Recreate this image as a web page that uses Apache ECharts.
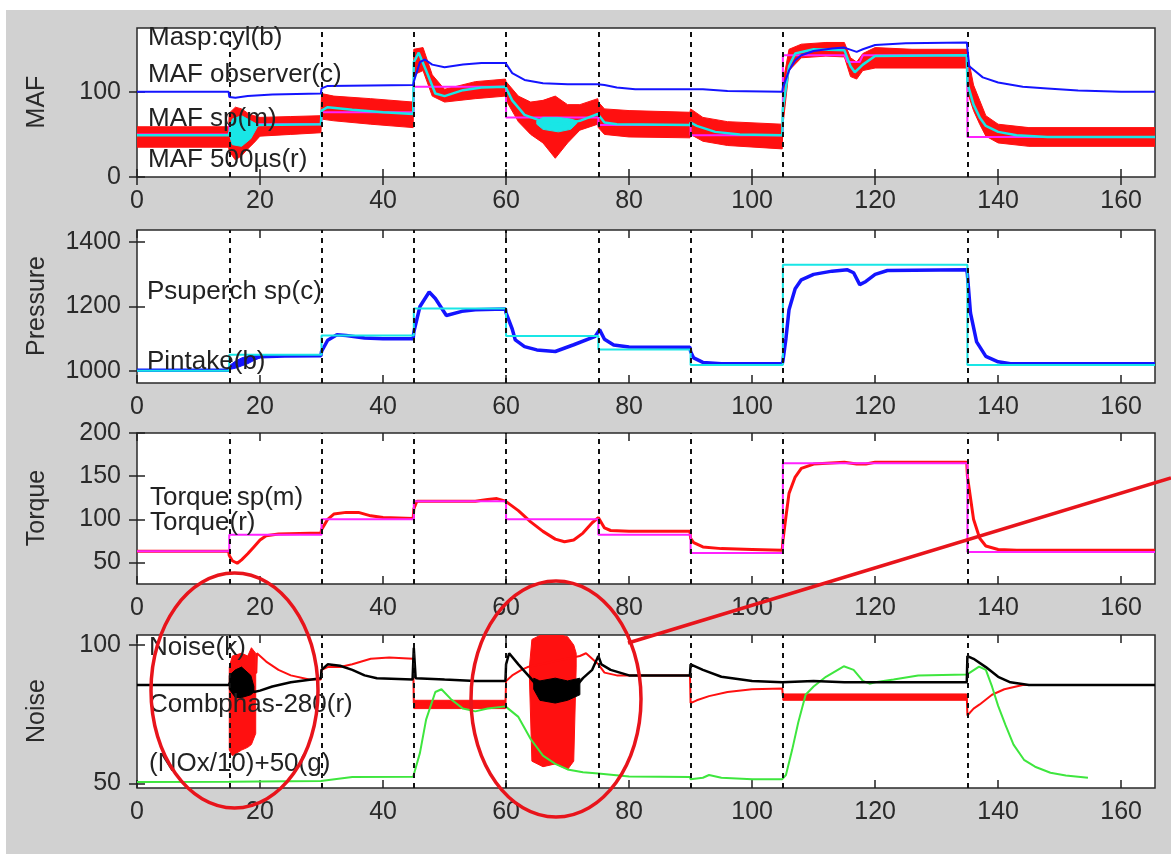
<!DOCTYPE html>
<html><head><meta charset="utf-8">
<script src="https://cdn.jsdelivr.net/npm/echarts@6/dist/echarts.min.js"></script>
<style>
html,body{margin:0;padding:0;background:#fff;width:1171px;height:854px;overflow:hidden}
#bg{position:absolute;left:6px;top:10px;width:1165px;height:844px;background:#d1d1d1}
#c{position:absolute;left:0;top:0;width:1171px;height:854px}
</style></head><body><div id="bg"></div><div id="c"></div>
<script>
// ---------- tick values / step times ----------
const stepTimes = [15, 30, 45, 60, 75, 90, 105, 135];
const xTicks = [0, 20, 40, 60, 80, 100, 120, 140, 160];
const mafTicks = [0, 100];
const pressTicks = [1000, 1200, 1400];
const torqueTicks = [50, 100, 150, 200];
const noiseTicks = [50, 100];

// ---------- MAF panel ----------
// MAF 500us (r): [t, low, high] envelope of the noisy signal
const mafRaw = [
 [0,35,59],[14.9,35,59],[15,30,75],[16,20,82],[17,25,80],[18,33,75],[19,40,72],[20,48,70],[25,50,71],[29.9,52,72],
 [30,68,98],[32,66,95],[38,62,92],[44.9,58,88],
 [45,120,150],[46.5,125,152],[48,95,120],[50,88,103],[55,92,112],[59.9,95,115],
 [60,90,112],[62,65,95],[64,50,88],[66,40,90],[68,22,95],[70,40,85],[72,55,85],[74.9,62,92],
 [75,58,88],[76,50,80],[80,47,78],[89.9,46,76],[90,50,80],[92,42,70],[96,37,65],[104.9,33,62],
 [105,60,110],[106,125,150],[108,140,156],[112,142,158],[115,141,158],[116,118,140],[117,115,135],[118,125,145],[120,128,152],[126,128,150],[134.9,128,150],
 [135,100,145],[136,78,108],[137,62,90],[138,48,72],[140,40,62],[145,36,58],[165.5,36,58]
];
// MAF observer (c)
const mafObs = [
 [0,49],[14.9,49],[15,52],[17,58],[19,60],[20,61],[29.9,62],
 [30,78],[31,82],[35,79],[40,76],[44.9,74],
 [45,135],[45.8,146],[47,125],[48.5,98],[50,95],[53,102],[56,105],[59.9,106],
 [60,104],[61,90],[63,73],[66,65],[68,62],[70,63],[72,66],[74.9,74],
 [75,72],[76,64],[78,62],[89.9,61],[90,64],[91,60],[94,53],[98,50],[104.9,49],
 [105,80],[106,130],[107,145],[110,150],[115,149],[116,130],[116.7,123],[118,132],[120,142],[134.9,143],
 [135,110],[136,85],[137,70],[138,60],[140,53],[143,49],[148,47],[165.5,47]
];
const mafObsBlob1 = [[15,50,55],[15.5,38,68],[17,36,72],[18.5,45,66],[19.5,58,62]];
const mafObsBlob2 = [[65,62,66],[66,56,70],[68.5,53,70],[70.5,56,68],[71.5,63,66]];
// MAF sp (m)
const mafSp = [
 [0,50],[15,50],[15,62],[30,62],[30,76],[45,76],[45,106],[60,106],[60,70],[75,70],[75,61],[90,61],[90,49],[105,49],
 [105,143],[115,143],[115.5,135],[117.5,135],[118,143],[135,143],[135,47],[165.5,47]
];
// Masp:cyl (b)
const maspCyl = [
 [0,100],[14.9,100],[15,94],[16,93],[18,95],[22,97],[29.9,98],
 [30,104],[31,107],[44.9,108],
 [45,112],[46,135],[46.8,138],[48,132],[50,129],[53,132],[56,134],[59.9,134],
 [60,132],[61,122],[63,114],[66,110],[70,109],[74.9,109],
 [75,111],[76,108],[78,105],[81,103],[89.9,103],[90,104],[92,103],[96,101],[104.9,100],
 [105,105],[106,125],[107,137],[108,143],[110,148],[113,151],[115,152],[117,147],[118,150],[120,155],[125,157],[134.9,158],
 [135,158],[135.3,130],[137.5,117],[140,111],[144,106],[148,104],[153,101.5],[160,100],[165.5,100]
];

// ---------- Pressure panel ----------
const psuperchSp = [
 [0,1000],[15,1000],[15,1050],[30,1050],[30,1110],[45,1110],[45,1194],[60,1194],[60,1108],[75,1108],
 [75,1066],[90,1066],[90,1018],[105,1018],[105,1330],[135,1330],[135,1018],[165.5,1018]
];
const pintake = [
 [0,1002],[14.9,1002],[15,1010],[16,1018],[17,1028],[18,1035],[19,1040],[20,1044],[24,1046],[29.9,1047],
 [30,1060],[31,1095],[32.5,1112],[34,1110],[37,1102],[40,1100],[44.9,1100],
 [45,1120],[46,1200],[47.5,1245],[48.5,1225],[50.3,1172],[52.8,1185],[55,1190],[59.9,1192],
 [60,1180],[61,1130],[61.5,1096],[63,1075],[65,1065],[68,1060],[71,1081],[74.5,1107],[75.2,1128],[76,1098],[77.5,1080],[80,1074],[89.9,1073],
 [90,1060],[90.5,1040],[92,1026],[95,1022],[104.9,1022],
 [105,1030],[105.5,1100],[106,1190],[107,1255],[108,1283],[110,1300],[113,1310],[115.5,1314],[116.5,1305],[117.5,1268],[118.5,1278],[120,1300],[122,1312],[134.9,1314],
 [135,1300],[135.5,1180],[136.5,1090],[138,1045],[140,1028],[142,1022],[165.5,1022]
];
const pintakeBlob = [[15,1004,1016],[16,1008,1030],[17,1015,1040],[18,1022,1046],[19,1032,1048],[20,1040,1048]];

// ---------- Torque panel ----------
const torqueSp = [
 [0,63],[15,63],[15,82],[30,82],[30,100],[45,100],[45,121],[60,121],[60,100],[75,100],[75,82],[90,82],
 [90,61],[105,61],[105,165],[135,165],[135,62],[165.5,62]
];
const torque = [
 [0,63],[14.9,63],[15,58],[15.5,52],[16.3,49],[17,53],[18,60],[19,68],[20,76],[21,81],[23,83],[29.9,84],
 [30,88],[31,100],[32,106],[34,108],[36,108],[38,104],[40,102],[44.9,101],
 [45,112],[45.5,121],[50,121],[55,121],[57,123],[58.5,124],[59.9,121],
 [60,120],[62,110],[64,97],[66,86],[68,77],[69.5,74],[71,76],[72.5,84],[74,96],[75,102],
 [76,90],[77,87],[80,86],[89.9,86],
 [90,78],[90.5,73],[92,68],[95,66],[100,65],[104.9,64],
 [105,75],[105.5,103],[106,130],[107,149],[108,159],[110,164],[115,166],[117,164],[118.5,164],[120,166],[134.9,166],
 [135,150],[135.5,125],[136,100],[137,78],[138,69],[140,65],[143,64],[165.5,64]
];

// ---------- Noise panel ----------
const noise = [
 [0,85.5],[14.9,85.5],[15,86],[15.5,88],[16,87],[17,88],[18,86],[19,83],[20,83.5],[22,85],[25,86.5],[29.9,88],
 [30,91],[31,93],[33,92.5],[35,91],[37,89],[39,88],[44.8,87.5],
 [45,99],[45.3,88],[50,87.5],[55,87],[59.9,87],
 [60,93],[60.5,97],[62,93],[64,88],[65.5,84],[68,83.5],[71,84],[72.5,88],[74,91],[75,96],
 [75.5,93],[77,91],[80,89],[89.9,89],
 [90,93],[92,91],[95,88.5],[100,87],[104.9,86.5],
 [105,87],[110,87],[115,86.5],[120,86.5],[125,86.5],[134.9,86.5],
 [135,96],[136,95],[138,92],[140,88.5],[142,86.5],[145,85.5],[165.5,85.5]
];
const noiseBlob1 = [[15,84,89],[16,81,91],[17,81,92],[18.5,82,89],[19,83,85]];
const noiseBlob2 = [[64.5,84,88],[65.5,80,87],[68,79,88],[70,80,87],[72,82,88]];
const combPhas = [
 [0,85.5],[14.9,85.5],[15,85],[19.4,90],[19.5,97],[21,94],[23,91],[25,89],[28,87.5],[29.9,87.5],
 [30,91],[31,92],[33,92],[35,93],[38,95],[41,95.5],[44.9,95],
 [45,79],[50,78.5],[55,78.5],[59.9,78.5],
 [60,87],[61,89],[62.5,91],[63.5,92],[72,96],[73,97],[74,95],[75,93],[76,90],[78,89],[89.9,89],
 [90,79],[91,80],[93,81.5],[96,83],[100,84],[104.9,84.3],
 [105,81.5],[110,81.3],[120,81.3],[134.9,81.3],
 [135,74.5],[136,77],[137,78.5],[139,82],[141,84],[144,85.5],[165.5,85.5]
];
const combPhasOsc1 = [[15,62,92],[15.5,60,96],[17,62,97],[18,63,96],[18.6,64,99],[19.3,68,97]];
const combPhasOsc2 = [[63.8,88,92],[64.2,58,102],[66,56,104],[68,57,104],[70,55,103],[71,58,100],[71.4,92,97]];
const combPhasBand1 = [[45,77,80],[59.9,77,80]];
const combPhasBand2 = [[105,80,82.3],[134.9,80,82.3]];
const noxG = [
 [0,50.5],[15,50.6],[29.9,50.8],[30,51.5],[35,52.3],[44.9,52.4],
 [45,53],[46,61],[47,73],[48.5,83],[49.5,84],[51,80.5],[53,77],[55,76],[57,77],[59.9,77.8],
 [60,77.5],[62,74],[64,66],[66,60],[68,57],[70,55],[72.5,54],[75,53.5],[80,52.5],[89.9,52.3],
 [90,51.5],[92,52],[93,53],[95,52],[100,51.5],[104.9,51.5],
 [105,51.8],[105.5,53],[106.5,62],[107.5,72],[108.7,82],[110,85],[112,88.5],[114.9,92.3],[116.5,91],[118,87],[119.1,86],[120,86.5],[123,87.5],[127,89],[134.9,89.3],
 [135,89.5],[136.9,92.2],[138,91],[139,85],[140,78],[141.2,71],[142.5,64],[144.2,58.5],[146,56],[148.5,53.8],[151,52.8],[154.6,52]
];

// ---------- chart ----------
const FONT = 'Liberation Sans, Arial, sans-serif';
const panels = [
  {top: 28,  height: 149, min: 0,   max: 175,  ticks: mafTicks,    name: 'MAF'},
  {top: 230, height: 153, min: 962, max: 1438, ticks: pressTicks,  name: 'Pressure'},
  {top: 433, height: 151, min: 25,  max: 200,  ticks: torqueTicks, name: 'Torque'},
  {top: 635, height: 153, min: 48.3,max: 103.6,ticks: noiseTicks,  name: 'Noise'}
];
const GL = 137, GW = 1018, XMAX = 165.5;
const grids = [], xAxes = [], yAxes = [];
const tickStyle = {color: '#222', width: 1.5};
const plain = v => String(v);
panels.forEach((p, i) => {
  grids.push({left: GL, top: p.top, width: GW, height: p.height, show: true, backgroundColor: '#fff',
              borderColor: '#2a2a2a', borderWidth: 1.5, containLabel: false, outerBoundsMode: 'none'});
  xAxes.push({type: 'value', gridIndex: i, min: 0, max: XMAX, position: 'bottom',
    axisLine: {show: false}, splitLine: {show: false},
    axisTick: {inside: true, length: 8, customValues: xTicks, lineStyle: tickStyle},
    axisLabel: {customValues: xTicks, fontSize: 25, color: '#2a2a2a', margin: 12, fontFamily: FONT, formatter: plain}});
  xAxes.push({type: 'value', gridIndex: i, min: 0, max: XMAX, position: 'top',
    axisLine: {show: false}, splitLine: {show: false},
    axisTick: {inside: true, length: 8, customValues: xTicks, lineStyle: tickStyle},
    axisLabel: {show: false}});
  yAxes.push({type: 'value', gridIndex: i, min: p.min, max: p.max, position: 'left',
    axisLine: {show: false}, splitLine: {show: false},
    axisTick: {inside: true, length: 8, customValues: p.ticks, lineStyle: tickStyle},
    axisLabel: {customValues: p.ticks, fontSize: 25, color: '#2a2a2a', margin: 16, fontFamily: FONT, formatter: plain}});
  yAxes.push({type: 'value', gridIndex: i, min: p.min, max: p.max, position: 'right',
    axisLine: {show: false}, splitLine: {show: false},
    axisTick: {inside: true, length: 8, customValues: p.ticks, lineStyle: tickStyle},
    axisLabel: {show: false}});
});

function line(data, color, width, gi, z) {
  return {type: 'line', xAxisIndex: gi * 2, yAxisIndex: gi * 2, data: data, symbol: 'none', showSymbol: false,
    lineStyle: {color: color, width: width}, itemStyle: {color: color}, z: z, silent: true, animation: false,
    clip: true};
}
// filled envelope between low and high values, positioned through the axes (api.coord)
function band(data3, color, gi, z) {
  return {type: 'custom', xAxisIndex: gi * 2, yAxisIndex: gi * 2, z: z, silent: true, animation: false,
    data: [[data3[0][0], data3[0][1]]],
    renderItem: function (params, api) {
      const up = data3.map(d => api.coord([d[0], d[2]]));
      const dn = data3.slice().reverse().map(d => api.coord([d[0], d[1]]));
      const cs = params.coordSys;
      return {type: 'polygon', shape: {points: up.concat(dn)},
        style: {fill: color, stroke: color, lineWidth: 1},
        clipPath: {type: 'rect', shape: {x: cs.x, y: cs.y, width: cs.width, height: cs.height}}};
    }};
}
function steps(gi) {
  return {type: 'line', xAxisIndex: gi * 2, yAxisIndex: gi * 2, data: [], symbol: 'none', z: 1, silent: true,
    markLine: {silent: true, symbol: ['none', 'none'], label: {show: false}, animation: false,
      lineStyle: {color: '#111', type: [5, 5], width: 2},
      data: stepTimes.map(t => ({xAxis: t}))}};
}

const RED = '#ff1010', BLUE = '#1414ff', CYAN = '#19e6e6', MAG = '#ff22ff', GREEN = '#3ee63e';
const series = [
  steps(0), steps(1), steps(2), steps(3),
  // MAF
  band(mafRaw, RED, 0, 2),
  line(mafSp, MAG, 2, 0, 3),
  line(mafObs, CYAN, 2.5, 0, 4),
  band(mafObsBlob1, CYAN, 0, 4),
  band(mafObsBlob2, CYAN, 0, 4),
  line(maspCyl, BLUE, 2, 0, 5),
  // Pressure
  line(pintake, BLUE, 3.5, 1, 3),
  band(pintakeBlob, BLUE, 1, 3),
  line(psuperchSp, CYAN, 2, 1, 4),
  // Torque
  line(torque, RED, 3, 2, 3),
  line(torqueSp, MAG, 2, 2, 4),
  // Noise
  line(combPhas, RED, 2, 3, 2),
  band(combPhasBand1, RED, 3, 2),
  band(combPhasBand2, RED, 3, 2),
  band(combPhasOsc1, RED, 3, 2),
  band(combPhasOsc2, RED, 3, 2),
  line(noxG, GREEN, 2, 3, 3),
  line(noise, '#000', 2.5, 3, 4),
  band(noiseBlob1, '#000', 3, 4),
  band(noiseBlob2, '#000', 3, 4)
];

function txt(s, x, y) {
  return {type: 'text', x: x, y: y, z: 100, silent: true,
    style: {text: s, font: '26px ' + FONT, fill: '#222', textAlign: 'left', textVerticalAlign: 'middle'}};
}
function yname(s, y) {
  return {type: 'text', x: 37, y: y, rotation: Math.PI / 2, z: 100, silent: true,
    style: {text: s, font: '25px ' + FONT, fill: '#2a2a2a', textAlign: 'center', textVerticalAlign: 'middle'}};
}
const ANN = '#e8141b';
const graphics = [
  yname('MAF', 102), yname('Pressure', 306), yname('Torque', 508), yname('Noise', 711),
  txt('Masp:cyl(b)', 148, 38), txt('MAF observer(c)', 148, 75), txt('MAF sp(m)', 148, 119), txt('MAF 500µs(r)', 148, 160),
  txt('Psuperch sp(c)', 147, 292), txt('Pintake(b)', 147, 362),
  txt('Torque sp(m)', 150, 498), txt('Torque(r)', 150, 523),
  txt('Noise(k)', 149, 648), txt('Combphas-280(r)', 149, 705), txt('(NOx/10)+50(g)', 149, 764),
  {type: 'ellipse', z: 120, silent: true, shape: {cx: 234.5, cy: 690.5, rx: 83.5, ry: 117.5},
   style: {fill: 'none', stroke: ANN, lineWidth: 3.5}},
  {type: 'ellipse', z: 120, silent: true, shape: {cx: 556, cy: 699, rx: 85, ry: 118},
   style: {fill: 'none', stroke: ANN, lineWidth: 3.5}},
  {type: 'line', z: 120, silent: true, shape: {x1: 628, y1: 643, x2: 1171, y2: 478},
   style: {stroke: ANN, lineWidth: 3.5}}
];

const chart = echarts.init(document.getElementById('c'), null, {renderer: 'canvas'});
chart.setOption({
  animation: false,
  backgroundColor: 'transparent',
  grid: grids, xAxis: xAxes, yAxis: yAxes,
  series: series,
  graphic: graphics
});
</script></body></html>
